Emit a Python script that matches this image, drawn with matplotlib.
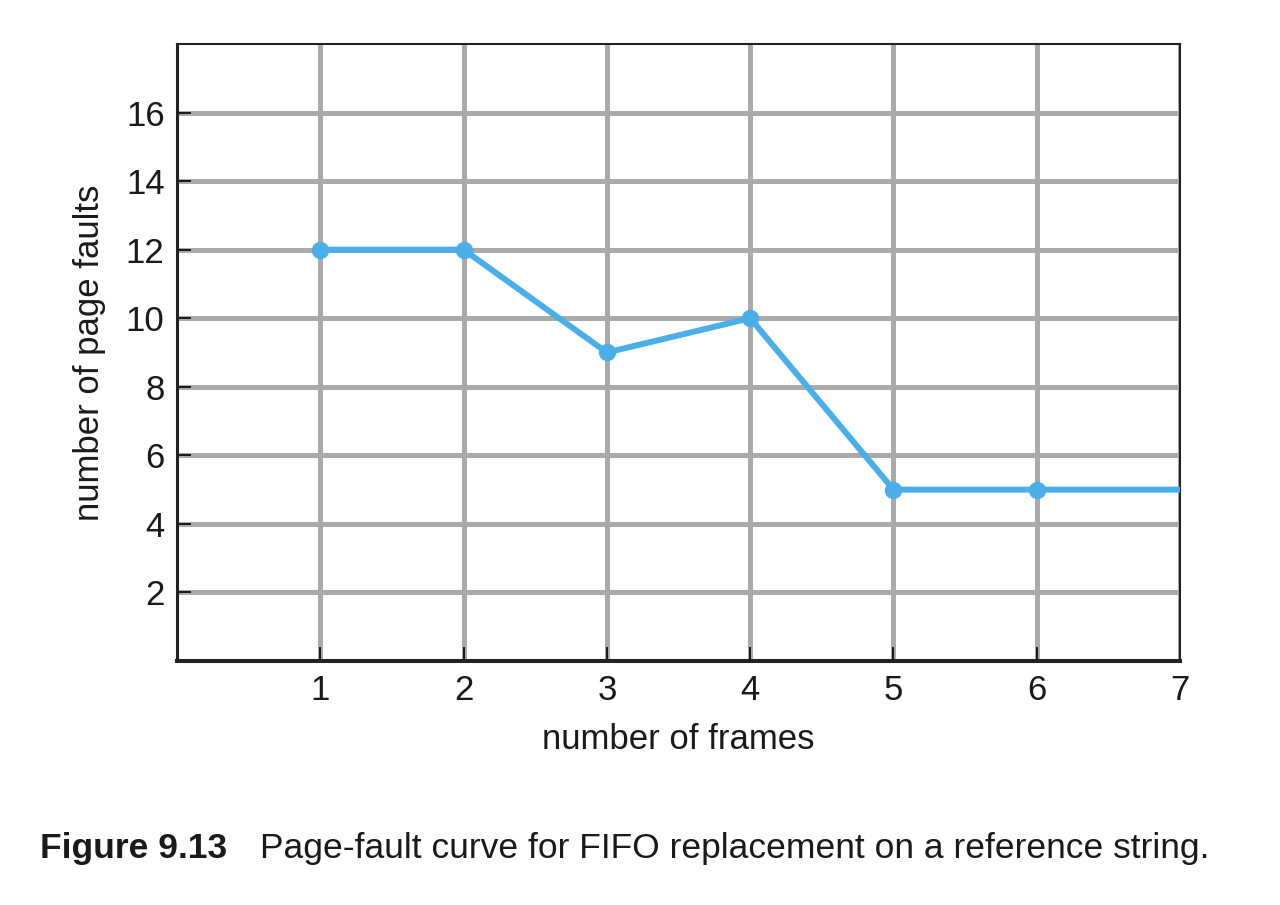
import matplotlib.pyplot as plt

plt.rcParams['font.family'] = ['Liberation Sans', 'DejaVu Sans']

# page faults for FIFO replacement
frames = [1, 2, 3, 4, 5, 6, 7]
faults = [12, 12, 9, 10, 5, 5, 5]
x_ticks = [1, 2, 3, 4, 5, 6, 7]
y_ticks = [2, 4, 6, 8, 10, 12, 14, 16]

fig = plt.figure(figsize=(12.8, 9.05), dpi=100)
ax = fig.add_axes([0.1383, 0.2696, 0.7836, 0.6818])

ax.plot(frames, faults, color='#4aaee8', lw=4.3, marker='o', markersize=11.5,
        markevery=list(range(6)), solid_capstyle='butt', zorder=3, clip_on=False)

ax.set_xlim(0, 7)
ax.set_ylim(0, 18)
ax.set_xticks(x_ticks)
ax.set_yticks(y_ticks)
ax.grid(True, color='#aaaaaa', lw=3.6)
ax.set_axisbelow(True)
ax.tick_params(direction='in', length=10, width=1.2, color='black', labelsize=25,
               labelcolor='#1a1a1a')
ax.tick_params(axis='x', pad=9)
ax.tick_params(axis='y', pad=9)

for side, w in [('left', 2.2), ('bottom', 2.9), ('top', 1.5), ('right', 1.5)]:
    ax.spines[side].set_linewidth(w)
    ax.spines[side].set_color('#222222')

ax.set_xlabel('number of frames', fontsize=25, labelpad=12, color='#1a1a1a')
ax.set_ylabel('number of page faults', fontsize=25, labelpad=14, color='#1a1a1a')

fig.text(40 / 1280, 1 - 848 / 905, 'Figure 9.13', fontsize=25.5, fontweight='bold',
         va='center', color='#1a1a1a')
fig.text(260 / 1280, 1 - 848 / 905, 'Page-fault curve for FIFO replacement on a reference string.',
         fontsize=25.5, va='center', color='#1a1a1a')

fig.savefig('out.png', dpi=100)
